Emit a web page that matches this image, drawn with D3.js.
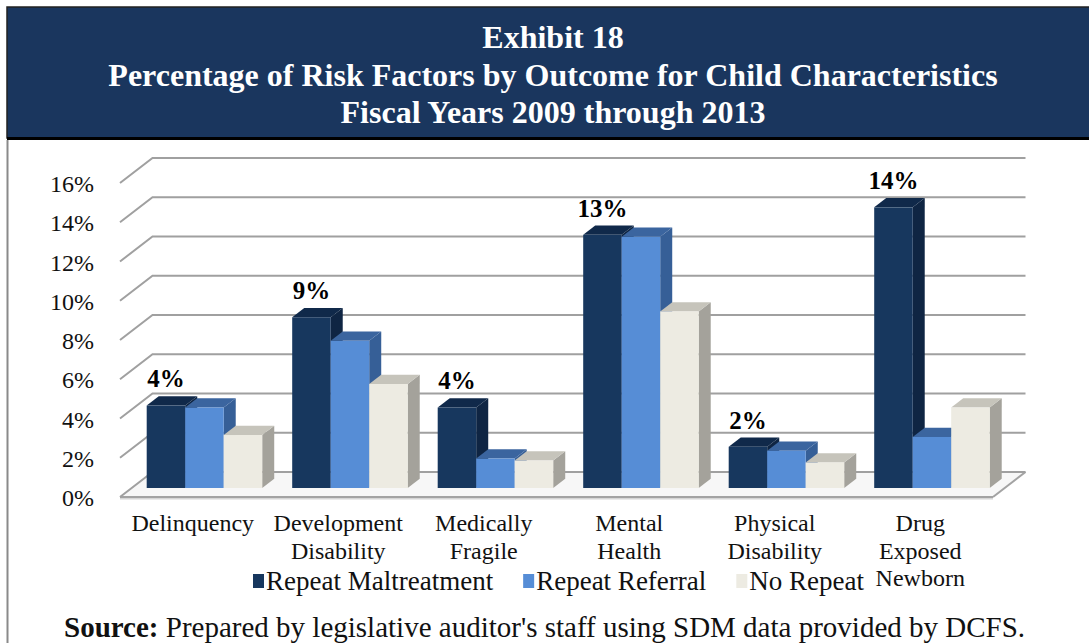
<!DOCTYPE html>
<html>
<head>
<meta charset="utf-8">
<script src="https://cdn.jsdelivr.net/npm/d3@7"></script>
<style>
  html, body { margin: 0; padding: 0; background: #ffffff; }
  svg { display: block; }
</style>
</head>
<body>
<svg id="chart" width="1089" height="643"></svg>
<script>
// Chart data
const categories = [
  ["Delinquency"],
  ["Development", "Disability"],
  ["Medically", "Fragile"],
  ["Mental", "Health"],
  ["Physical", "Disability"],
  ["Drug", "Exposed", "Newborn"]
];
const seriesNames = ["Repeat Maltreatment", "Repeat Referral", "No Repeat"];
const repeatMaltreatment = [4.2, 8.7, 4.1, 12.9, 2.1, 14.3];
const repeatReferral     = [4.1, 7.5, 1.5, 12.8, 1.9, 2.6];
const noRepeat           = [2.7, 5.3, 1.4, 9.0, 1.3, 4.1];
const yTicks = [0, 2, 4, 6, 8, 10, 12, 14, 16];
const titleLines = [
  "Exhibit 18",
  "Percentage of Risk Factors by Outcome for Child Characteristics",
  "Fiscal Years 2009 through 2013"
];

const seriesValues = [repeatMaltreatment, repeatReferral, noRepeat];
const palette = [
  { front: "#17375e", top: "#10294a", side: "#0f2543" },
  { front: "#568dd6", top: "#3b659f", side: "#365f97" },
  { front: "#edebe2", top: "#c6c4bb", side: "#a4a29b" }
];

const FONT = '"Liberation Serif", "Times New Roman", serif';
const svg = d3.select("#chart").attr("font-family", FONT);

// ---- Title banner ----
svg.append("rect").attr("x", 7).attr("y", 7).attr("width", 1090).attr("height", 131)
  .attr("fill", "#1a365e").attr("stroke", "#222").attr("stroke-width", 1.5);
svg.append("line").attr("x1", 7).attr("x2", 1089).attr("y1", 138.5).attr("y2", 138.5)
  .attr("stroke", "#000").attr("stroke-width", 3);
svg.append("line").attr("x1", 7.5).attr("x2", 7.5).attr("y1", 140).attr("y2", 643)
  .attr("stroke", "#8a8a8a").attr("stroke-width", 2);

svg.append("g").selectAll("text").data(titleLines).join("text")
  .attr("x", 553).attr("y", (d, i) => 48 + i * 37.5)
  .attr("text-anchor", "middle").attr("fill", "#ffffff")
  .attr("font-family", FONT)
  .attr("font-weight", "bold").attr("font-size", 32)
  .text(d => d);

// ---- 3D plot geometry ----
const floorLeft = 120, floorRight = 993, floorFrontY = 497;
const DX = 32.5, DY = 25;            // oblique offset from front to back of floor
const barDepth0 = 0.36, barDepth = 0.37; // bar placement within floor depth

const h = d3.scaleLinear().domain([0, 16]).range([0, 314]);
const xCat = d3.scaleBand().domain(d3.range(categories.length)).range([floorLeft, floorRight]);
const xSer = d3.scaleBand().domain(d3.range(seriesNames.length)).range([15, xCat.bandwidth() - 15]);

const grid = svg.append("g");

// floor
const fl = [
  [floorLeft, floorFrontY], [floorRight, floorFrontY],
  [floorRight + DX, floorFrontY - DY], [floorLeft + DX, floorFrontY - DY]
];
grid.append("polygon").attr("points", fl.map(p => p.join(",")).join(" "))
  .attr("fill", "#f7f7f7").attr("stroke", "none");
grid.append("line").attr("x1", floorLeft).attr("x2", floorRight)
  .attr("y1", floorFrontY + 1.5).attr("y2", floorFrontY + 1.5)
  .attr("stroke", "#d6d6d6").attr("stroke-width", 2);
grid.append("line").attr("x1", floorLeft).attr("x2", floorRight)
  .attr("y1", floorFrontY).attr("y2", floorFrontY)
  .attr("stroke", "#a3a3a3").attr("stroke-width", 2.2);
grid.append("line").attr("x1", floorRight).attr("x2", floorRight + DX)
  .attr("y1", floorFrontY).attr("y2", floorFrontY - DY)
  .attr("stroke", "#a3a3a3").attr("stroke-width", 2);

// gridlines: left-wall diagonal plus back-wall horizontal
yTicks.forEach(t => {
  const yf = floorFrontY - h(t), yb = floorFrontY - DY - h(t);
  grid.append("path")
    .attr("d", `M${floorLeft},${yf}L${floorLeft + DX},${yb}L${floorRight + DX},${yb}`)
    .attr("fill", "none").attr("stroke", "#a0a0a0").attr("stroke-width", 2);
});

// y axis labels
svg.append("g").selectAll("text").data(yTicks).join("text")
  .attr("x", 94).attr("y", t => floorFrontY - h(t) + 9)
  .attr("text-anchor", "end").attr("font-family", FONT)
  .attr("font-size", 24).attr("fill", "#111")
  .text(t => t + "%");

// ---- Bars ----
const bars = svg.append("g");
categories.forEach((cat, ci) => {
  seriesValues.forEach((vals, si) => {
    const v = vals[ci];
    const w = xSer.bandwidth();
    const x0 = xCat(ci) + xSer(si) + barDepth0 * DX;
    const yb = floorFrontY - barDepth0 * DY;
    const yt = yb - h(v);
    const ox = barDepth * DX, oy = barDepth * DY;
    const c = palette[si];
    bars.append("polygon")
      .attr("points", [[x0 + w, yt], [x0 + w + ox, yt - oy], [x0 + w + ox, yb - oy], [x0 + w, yb]].map(p => p.join(",")).join(" "))
      .attr("fill", c.side);
    bars.append("polygon")
      .attr("points", [[x0, yt], [x0 + w, yt], [x0 + w + ox, yt - oy], [x0 + ox, yt - oy]].map(p => p.join(",")).join(" "))
      .attr("fill", c.top);
    bars.append("rect").attr("x", x0).attr("y", yt).attr("width", w).attr("height", yb - yt)
      .attr("fill", c.front);
  });
});

// value labels over the Repeat Maltreatment bars
svg.append("g").selectAll("text").data(repeatMaltreatment).join("text")
  .attr("x", (v, ci) => xCat(ci) + xSer(0) + barDepth0 * DX + xSer.bandwidth() / 2)
  .attr("y", v => floorFrontY - barDepth0 * DY - h(v) - barDepth * DY - 9)
  .attr("text-anchor", "middle").attr("font-family", FONT)
  .attr("font-weight", "bold").attr("font-size", 25)
  .attr("fill", "#000")
  .text(v => Math.round(v) + "%");

// category labels
const catG = svg.append("g");
categories.forEach((lines, ci) => {
  const cx = xCat(ci) + xCat.bandwidth() / 2;
  const t = catG.append("text")
    .attr("x", cx).attr("y", 531)
    .attr("text-anchor", "middle").attr("font-family", FONT)
    .attr("font-size", 24).attr("fill", "#111");
  lines.forEach((ln, li) => {
    t.append("tspan").attr("x", cx).attr("y", 531 + li * 27.5).text(ln);
  });
});

// ---- Legend ----
const legend = svg.append("g");
let lx = 253;
seriesNames.forEach((name, si) => {
  legend.append("rect").attr("x", lx).attr("y", 574).attr("width", 11).attr("height", 14)
    .attr("fill", palette[si].front);
  const txt = legend.append("text").attr("x", lx + 13).attr("y", 590)
    .attr("font-family", FONT).attr("font-size", 27).attr("fill", "#111").text(name);
  lx += 13 + txt.node().getComputedTextLength() + 30;
});

// ---- Source note ----
const src = svg.append("text").attr("x", 64).attr("y", 637)
  .attr("font-family", FONT).attr("font-size", 29).attr("fill", "#111");
src.append("tspan").attr("font-weight", "bold").text("Source:");
src.append("tspan").text(" Prepared by legislative auditor's staff using SDM data provided by DCFS.");
</script>
</body>
</html>
